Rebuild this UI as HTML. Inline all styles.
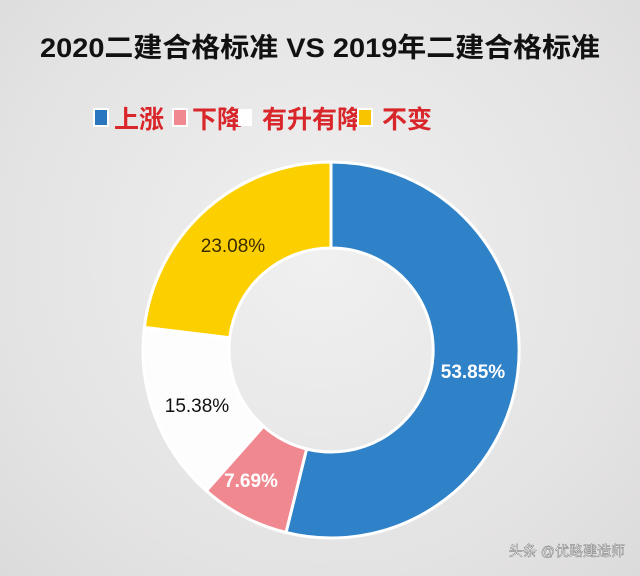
<!DOCTYPE html>
<html><head><meta charset="utf-8"><style>
body{margin:0;width:640px;height:576px;overflow:hidden;background:radial-gradient(ellipse at 50% 45%,#f0f0f0 0%,#e4e3e3 70%,#dcdbdb 100%);font-family:"Liberation Sans","Noto Sans CJK SC",sans-serif;}
</style></head><body>
<svg width="640" height="576" viewBox="0 0 640 576" xmlns="http://www.w3.org/2000/svg" style="position:absolute;left:0;top:0">
<text x="320" y="57" text-anchor="middle" font-family="Liberation Sans,Noto Sans CJK SC,sans-serif" font-weight="bold" font-size="27" fill="#111" textLength="560" lengthAdjust="spacingAndGlyphs">2020二建合格标准 VS 2019年二建合格标准</text>
<rect x="94" y="109" width="14" height="17" fill="#2a77c0" stroke="#fff" stroke-width="2"/>
<text x="114" y="128" font-family="Liberation Sans,Noto Sans CJK SC,sans-serif" font-weight="bold" font-size="25" fill="#d9262a">上涨</text>
<rect x="173" y="109" width="14" height="17" fill="#f08890" stroke="#fff" stroke-width="2"/>
<text x="192" y="128" font-family="Liberation Sans,Noto Sans CJK SC,sans-serif" font-weight="bold" font-size="25" fill="#d9262a">下降</text>
<rect x="238" y="109" width="14" height="17" fill="#fff"/>
<text x="262" y="128" font-family="Liberation Sans,Noto Sans CJK SC,sans-serif" font-weight="bold" font-size="25" fill="#d9262a">有升有降</text>
<rect x="358" y="109" width="14" height="17" fill="#f8c400" stroke="#fff" stroke-width="2"/>
<text x="382" y="128" font-family="Liberation Sans,Noto Sans CJK SC,sans-serif" font-weight="bold" font-size="25" fill="#d9262a">不变</text>
<g stroke="#fff" stroke-width="3">
<path d="M331,162 A188,188 0 1 1 286,532.5 L306.6,449 A102,102 0 1 0 331,248 Z" fill="#2f82c8"/>
<path d="M286,532.5 A188,188 0 0 1 206.3,490.7 L263.4,426.3 A102,102 0 0 0 306.6,449 Z" fill="#f08890"/>
<path d="M206.3,490.7 A188,188 0 0 1 144.4,327.4 L229.7,337.7 A102,102 0 0 0 263.4,426.3 Z" fill="#fdfdfd"/>
<path d="M144.4,327.4 A188,188 0 0 1 331,162 L331,248 A102,102 0 0 0 229.7,337.7 Z" fill="#fcd000"/>
</g>
<g font-family="Liberation Sans,sans-serif" font-size="19">
<text x="473" y="378" text-anchor="middle" fill="#fff" font-weight="bold">53.85%</text>
<text x="251" y="487" text-anchor="middle" fill="#fff" font-weight="bold">7.69%</text>
<text x="197" y="412" text-anchor="middle" fill="#111">15.38%</text>
<text x="233" y="252" text-anchor="middle" fill="#3a2a00">23.08%</text>
</g>
<text x="625" y="556" text-anchor="end" font-family="Liberation Sans,Noto Sans CJK SC,sans-serif" font-size="14" fill="#fff" stroke="#666" stroke-width="0.4">头条 @优路建造师</text>
</svg>
</body></html>
